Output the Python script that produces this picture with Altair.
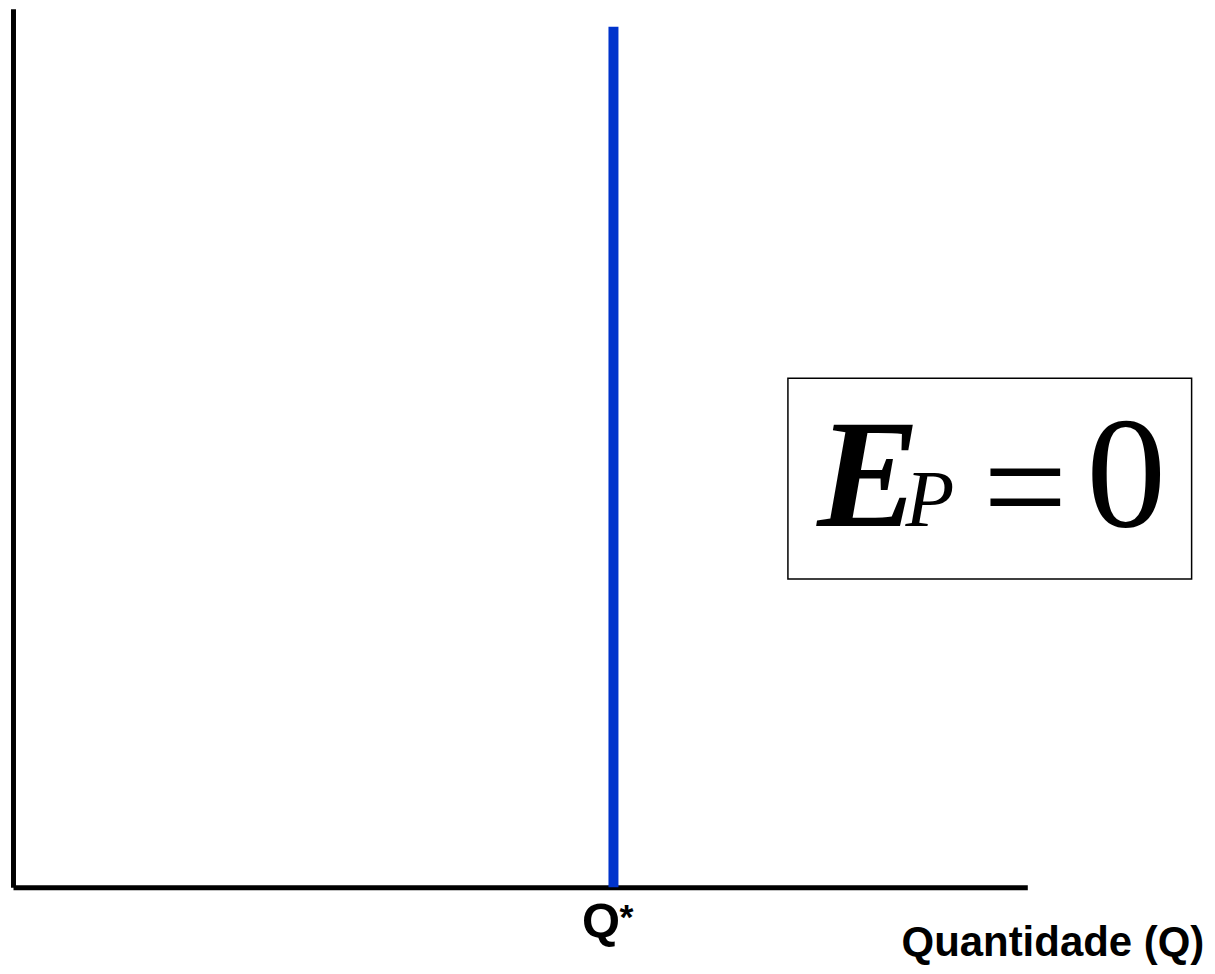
import altair as alt
import pandas as pd

# ---- data (in chart units: x 0..100, y 0..100) ----
q_star = [59.2]          # fixed quantity Q*
curve_bottom = [0.0]
curve_top = [97.95]      # top of the perfectly inelastic curve

box_x = [76.4]
box_x2 = [116.2]
box_y = [35.11]
box_y2 = [57.95]

e_text = ["E"]
e_x = [79.3]
p_text = ["P"]
p_x = [88.0]
eq_text = ["="]
eq_x = [95.63]
eq_y = [39.9]
zero_text = ["0"]
zero_x = [105.8]
formula_y = [41.14]

q_label = ["Q"]
q_label_x = [56.1]
q_label_y = [-5.68]
star_label = ["*"]
star_x = [59.8]
star_y = [-4.77]

axis_title = ["Quantidade (Q)"]
axis_title_x = [87.6]
axis_title_y = [-7.84]

x_scale = alt.Scale(domain=[0, 100], nice=False, zero=False)
y_scale = alt.Scale(domain=[0, 100], nice=False, zero=False)

x_axis = alt.Axis(title=None, labels=False, ticks=False, grid=False,
                  domainColor="black", domainWidth=5)
y_axis = alt.Axis(title=None, labels=False, ticks=False, grid=False,
                  domainColor="black", domainWidth=5)

curve_df = pd.DataFrame({"q": q_star, "y0": curve_bottom, "y1": curve_top})
curve = alt.Chart(curve_df).mark_rule(color="#0033cc", strokeWidth=10, strokeCap="butt").encode(
    x=alt.X("q:Q", scale=x_scale, axis=x_axis),
    y=alt.Y("y0:Q", scale=y_scale, axis=y_axis),
    y2="y1:Q",
)

box_df = pd.DataFrame({"x": box_x, "x2": box_x2, "y": box_y, "y2": box_y2})
box = alt.Chart(box_df).mark_rect(fill="white", stroke="black", strokeWidth=1.5).encode(
    x=alt.X("x:Q", scale=x_scale), x2="x2:Q",
    y=alt.Y("y:Q", scale=y_scale), y2="y2:Q",
)

def text_layer(texts, xs, ys, font, size, style="normal", weight="normal"):
    df = pd.DataFrame({"t": texts, "x": xs, "y": ys})
    return alt.Chart(df).mark_text(
        align="left", baseline="alphabetic", font=font, fontSize=size,
        fontStyle=style, fontWeight=weight, color="black",
    ).encode(
        x=alt.X("x:Q", scale=x_scale),
        y=alt.Y("y:Q", scale=y_scale),
        text="t:N",
    )

serif = "Liberation Serif"
sans = "Liberation Sans"

e_layer = text_layer(e_text, e_x, formula_y, serif, 154, "italic", "bold")
p_layer = text_layer(p_text, p_x, formula_y, serif, 80, "italic")
eq_layer = text_layer(eq_text, eq_x, eq_y, serif, 150)
zero_layer = text_layer(zero_text, zero_x, formula_y, serif, 160)
q_layer = text_layer(q_label, q_label_x, q_label_y, sans, 49, weight="bold")
star_layer = text_layer(star_label, star_x, star_y, sans, 36, weight="bold")
title_layer = text_layer(axis_title, axis_title_x, axis_title_y, sans, 42, weight="bold")

chart = alt.layer(
    curve, box, e_layer, p_layer, eq_layer, zero_layer, q_layer, star_layer, title_layer
).properties(
    width=1016, height=880,
    autosize=alt.AutoSizeParams(type="none"),
    padding={"left": 5, "top": 0, "right": 180, "bottom": 78},
).configure_view(stroke=None).configure_axis(domainCap="butt")

chart.save("out.html", embed_options={"renderer": "svg", "actions": False})
